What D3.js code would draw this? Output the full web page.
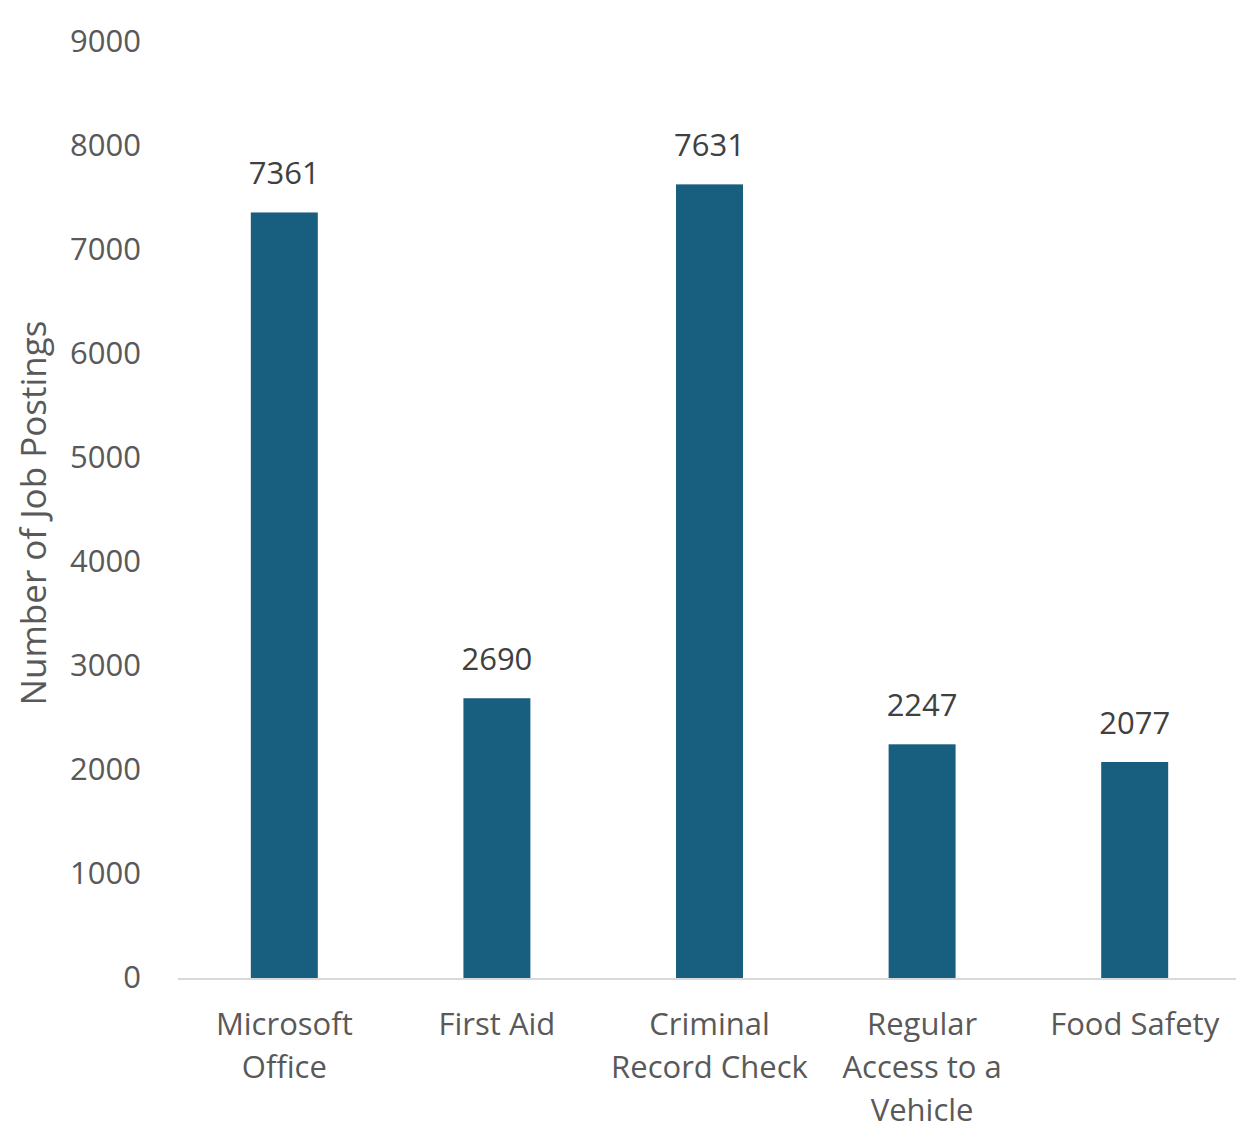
<!DOCTYPE html>
<html>
<head>
<meta charset="utf-8">
<script src="https://cdn.jsdelivr.net/npm/d3@7"></script>
<style>
  body { margin: 0; background: #fff; }
  text { font-family: "Open Sans", sans-serif; }
</style>
</head>
<body>
<div id="chart"></div>
<script>
// data
var categories = ['Microsoft Office', 'First Aid', 'Criminal Record Check', 'Regular Access to a Vehicle', 'Food Safety'];
var category_lines = [['Microsoft', 'Office'], ['First Aid'], ['Criminal', 'Record Check'], ['Regular', 'Access to a', 'Vehicle'], ['Food Safety']];
var postings = [7361, 2690, 7631, 2247, 2077];
var y_ticks = [0, 1000, 2000, 3000, 4000, 5000, 6000, 7000, 8000, 9000];

const width = 1236;
const height = 1131;
const bar_color = '#175e7f';
const label_color = '#595959';

var svg = d3.select('#chart').append('svg')
  .attr('width', width)
  .attr('height', height);

var x = d3.scaleBand()
  .domain(categories)
  .range([178, 1241])
  .paddingInner(0.685)
  .paddingOuter(0.3425);

var y = d3.scaleLinear()
  .domain([0, 9000])
  .range([978, 42]);

// y tick labels (no axis line)
var yAxis = d3.axisLeft(y).tickValues(y_ticks).tickSize(0).tickPadding(0).tickFormat(d3.format('d'));
var yg = svg.append('g')
  .attr('transform', 'translate(141,0)')
  .call(yAxis);
yg.select('.domain').remove();
yg.selectAll('text')
  .attr('fill', label_color)
  .style('font-size', '31px')
  .style('font-family', '"Open Sans", sans-serif');

// y axis title
svg.append('text')
  .attr('transform', 'translate(46,513) rotate(-90)')
  .attr('text-anchor', 'middle')
  .attr('fill', label_color)
  .style('font-size', '35px')
  .text('Number of Job Postings');

// bars
svg.selectAll('rect.bar')
  .data(postings)
  .enter().append('rect')
  .attr('class', 'bar')
  .attr('x', (d, i) => x(categories[i]))
  .attr('y', d => y(d))
  .attr('width', x.bandwidth())
  .attr('height', d => y(0) - y(d))
  .attr('fill', bar_color);

// baseline
svg.append('line')
  .attr('x1', 178)
  .attr('x2', width)
  .attr('y1', y(0) + 1)
  .attr('y2', y(0) + 1)
  .attr('stroke', '#d9d9d9')
  .attr('stroke-width', 2);

// value labels
svg.selectAll('text.value')
  .data(postings)
  .enter().append('text')
  .attr('class', 'value')
  .attr('x', (d, i) => x(categories[i]) + x.bandwidth() / 2)
  .attr('y', d => y(d) - 28)
  .attr('text-anchor', 'middle')
  .attr('fill', '#404040')
  .style('font-size', '31px')
  .text(d => d);

// category labels
var cat = svg.selectAll('text.cat')
  .data(category_lines)
  .enter().append('text')
  .attr('class', 'cat')
  .attr('text-anchor', 'middle')
  .attr('fill', label_color)
  .style('font-size', '31px');
cat.each(function(lines, i) {
  var cx = x(categories[i]) + x.bandwidth() / 2;
  d3.select(this).selectAll('tspan')
    .data(lines)
    .enter().append('tspan')
    .attr('x', cx)
    .attr('y', (l, j) => 1035 + j * 43)
    .text(l => l);
});
</script>
</body>
</html>
